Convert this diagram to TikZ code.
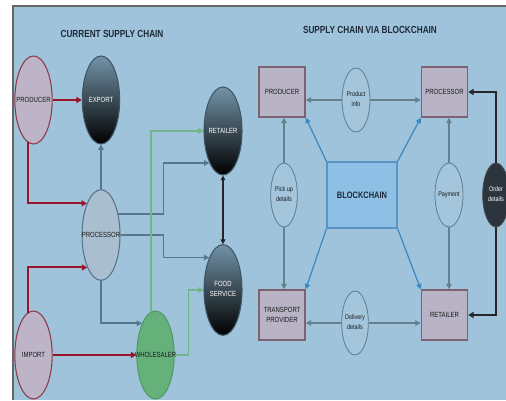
\documentclass[tikz,border=0pt]{standalone}
\usepackage{fontspec}
\setmainfont{Liberation Sans}[FakeStretch=0.8]
\usetikzlibrary{shapes.geometric,arrows.meta}
\definecolor{panelbg}{HTML}{9EC3DB}
\definecolor{stagefill}{HTML}{BDB4C8}
\definecolor{stageedge}{HTML}{8E3A4E}
\definecolor{darktop}{HTML}{7393A8}
\definecolor{darkedge}{HTML}{3E5666}
\definecolor{procfill}{HTML}{A9BFCF}
\definecolor{procedge}{HTML}{587489}
\definecolor{wholefill}{HTML}{66B07A}
\definecolor{wholeedge}{HTML}{4F9A66}
\definecolor{redline}{HTML}{9B1428}
\definecolor{slateline}{HTML}{56778C}
\definecolor{greenline}{HTML}{72B58A}
\definecolor{boxfill}{HTML}{B9B3C6}
\definecolor{boxedge}{HTML}{7D6272}
\definecolor{chainfill}{HTML}{8DC0E4}
\definecolor{chainedge}{HTML}{5A94C4}
\definecolor{blueline}{HTML}{3D86C2}
\definecolor{greyline}{HTML}{64808F}
\definecolor{infoedge}{HTML}{5F7C90}
\definecolor{orderfill}{HTML}{2C353E}
\definecolor{titletext}{HTML}{1E2A36}
\newcommand{\zw}[1]{\makebox[0pt]{#1}}
\begin{document}
\begin{tikzpicture}[x=0.75pt, y=-0.75pt,
  every node/.style={font=\fontsize{5.6}{6.3}\selectfont, inner sep=0pt, text=black!90},
  title/.style={font=\bfseries\fontsize{7.7}{8.5}\selectfont, text=titletext},
  lightstage/.style={ellipse, draw=stageedge, fill=stagefill, line width=0.8pt, minimum width=28pt, minimum height=66pt},
  darkstage/.style={ellipse, draw=darkedge, top color=darktop, bottom color=black, line width=0.8pt, minimum width=28pt, minimum height=66pt, text=white},
  procstage/.style={ellipse, draw=procedge, fill=procfill, line width=0.8pt, minimum width=28.5pt, minimum height=68pt},
  wholestage/.style={ellipse, draw=wholeedge, fill=wholefill, line width=0.8pt, minimum width=28pt, minimum height=66pt},
  sidebox/.style={rectangle, draw=boxedge, fill=boxfill, line width=1.1pt, minimum width=34.5pt, minimum height=37.5pt, align=center},
  chainbox/.style={rectangle, draw=chainedge, fill=chainfill, line width=0.8pt, minimum width=52.5pt, minimum height=49.5pt, font=\bfseries\fontsize{7}{8}\selectfont, text=titletext},
  bubble/.style={ellipse, draw=infoedge, fill=panelbg!95!white, line width=0.6pt, minimum width=20pt, minimum height=48pt, font=\fontsize{5.1}{6}\selectfont},
  redflow/.style={draw=redline, line width=1.5pt, -{Triangle[length=4pt,width=4.5pt]}},
  slateflow/.style={draw=slateline, line width=1.2pt, -{Triangle[length=4pt,width=4pt]}},
  greenflow/.style={draw=greenline, line width=1pt, -{Triangle[length=4pt,width=4pt]}},
  greyflow/.style={draw=greyline, line width=1pt, -{Triangle[length=4pt,width=4pt]}},
  chainflow/.style={draw=blueline, line width=0.9pt, -{Triangle[length=4pt,width=4pt]}},
  orderflow/.style={draw=black!85, line width=1.3pt, -{Triangle[length=4pt,width=4.5pt]}}]
\useasboundingbox (0,0) rectangle (506,400);
% Panel
\fill[panelbg] (13,6) rectangle (506,400);
\draw[black!60, line width=1.2pt] (13,400) -- (13,6) -- (506,6);
% Titles
\node[title] (curtitle) at (112,34) {CURRENT SUPPLY CHAIN};
\node[title] (bctitle) at (370,30) {SUPPLY CHAIN VIA BLOCKCHAIN};
% Current supply chain
\node[lightstage] (prod) at (33.5,100) {\zw{PRODUCER}};
\node[darkstage] (export) at (101,100) {\zw{EXPORT}};
\node[darkstage, minimum width=28.5pt] (ret) at (223,131) {\zw{RETAILER}};
\node[procstage] (proc) at (101,235) {\zw{PROCESSOR}};
\node[darkstage, minimum width=28.5pt, minimum height=68pt, align=center] (food) at (223,290) {\zw{\begin{tabular}{@{}c@{}}FOOD\\[1pt]SERVICE\end{tabular}}};
\node[lightstage] (imp) at (33.5,355) {\zw{IMPORT}};
\node[wholestage] (whole) at (155.5,355) {\zw{WHOLESALER}};
\draw[redflow] (prod) -- (export);
\draw[redflow] (prod.262) |- (proc.114);
\draw[redflow] (imp.98) |- (proc.247);
\draw[redflow] (imp) -- (whole);
\draw[slateflow] (proc) -- (export);
\draw[slateflow] (proc.50) -- ++(45,0) |- (ret.247);
\draw[slateflow] (proc.east) -- ++(43,0) |- (food.113);
\draw[slateflow] (proc.south) |- (whole.113);
\draw[greenflow] (whole.96) |- (ret.west);
\draw[greenflow] (whole.east) -- ++(14,0) |- (food.west);
\draw[black!85, line width=0.8pt, {Triangle[length=3.5pt,width=3.5pt]}-{Triangle[length=3.5pt,width=3.5pt]}] (ret) -- (food);
% Supply chain via blockchain
\node[sidebox] (prodR) at (282,92) {PRODUCER};
\node[sidebox] (procR) at (444.5,92) {PROCESSOR};
\node[sidebox] (trans) at (282,315) {TRANSPORT\\[1pt]PROVIDER};
\node[sidebox] (retR) at (444.5,315) {RETAILER};
\node[chainbox] (chain) at (362,195) {BLOCKCHAIN};
\node[bubble, minimum width=21pt] (prodinfo) at (356,100) {\zw{\begin{tabular}{@{}c@{}}Product\\[1pt]info\end{tabular}}};
\node[bubble] (pickup) at (284,195) {\zw{\begin{tabular}{@{}c@{}}Pick up\\[1pt]details\end{tabular}}};
\node[bubble, minimum width=21pt] (payment) at (449,195) {\zw{Payment}};
\node[bubble] (delivery) at (355,323) {\zw{\begin{tabular}{@{}c@{}}Delivery\\[1pt]details\end{tabular}}};
\node[bubble, fill=orderfill, draw=black!70, text=white] (order) at (496,195) {\zw{\begin{tabular}{@{}c@{}}Order\\[1pt]details\end{tabular}}};
\draw[greyflow] (prodinfo.west) -- (prodR.east |- prodinfo.west);
\draw[greyflow] (prodinfo.east) -- (procR.west |- prodinfo.east);
\draw[greyflow] (pickup.north) -- (pickup.north |- prodR.south);
\draw[greyflow] (pickup.south) -- (pickup.south |- trans.north);
\draw[greyflow] (payment.north) -- (payment.north |- procR.south);
\draw[greyflow] (payment.south) -- (payment.south |- retR.north);
\draw[greyflow] (delivery.west) -- (trans.east |- delivery.west);
\draw[greyflow] (delivery.east) -- (retR.west |- delivery.east);
\draw[orderflow] (order.north) |- (procR.east);
\draw[orderflow] (order.south) |- (retR.east);
\draw[chainflow] (chain.north west) -- (prodR.south east);
\draw[chainflow] (chain.north east) -- (procR.south west);
\draw[chainflow] (chain.south west) -- (trans.north east);
\draw[chainflow] (chain.south east) -- (retR.north west);
\end{tikzpicture}
\end{document}
